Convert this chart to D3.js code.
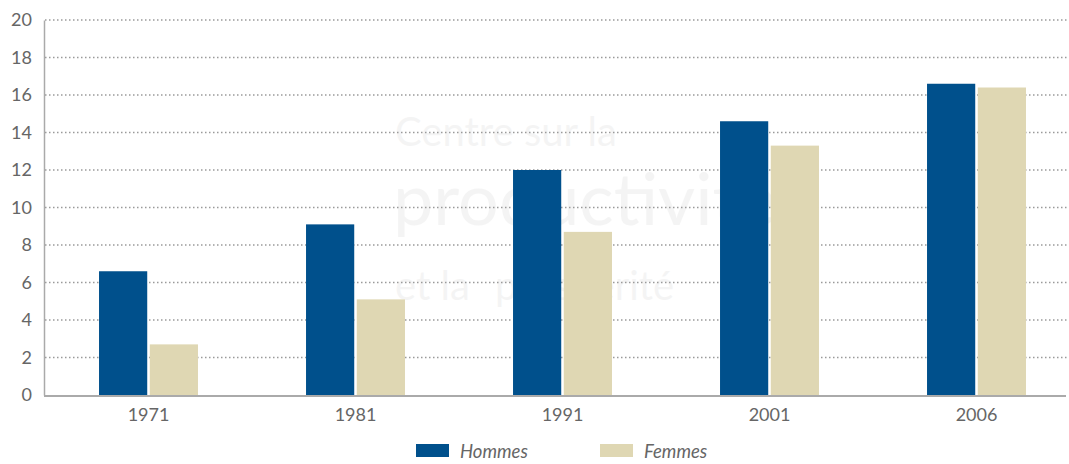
<!DOCTYPE html>
<html>
<head>
<meta charset="utf-8">
<script src="https://cdn.jsdelivr.net/npm/d3@7"></script>
<style>
  body { margin: 0; background: #fff; }
  text { font-family: Lato, "Open Sans", sans-serif; }
</style>
</head>
<body>
<div id="chart"></div>
<script>
const years = ['1971', '1981', '1991', '2001', '2006'];
const series = ['Hommes', 'Femmes'];
const hommes = [6.6, 9.1, 12.0, 14.6, 16.6];
const femmes = [2.7, 5.1, 8.7, 13.3, 16.4];
const yTicks = [0, 2, 4, 6, 8, 10, 12, 14, 16, 18, 20];
const colors = ['#00508c', '#dfd7b3'];

const width = 1069, height = 464;
const svg = d3.select('#chart').append('svg')
  .attr('width', width).attr('height', height);

const x0 = d3.scaleBand().domain(years).range([45, 1080]).paddingInner(0.522).paddingOuter(0.261);
const x1 = d3.scaleBand().domain(series).range([0, x0.bandwidth()]).paddingInner(0.05);
const y = d3.scaleLinear().domain([0, 20]).range([395, 20]);

// faint watermark (kept on separate lines so the texts do not overlap)
const wm = svg.append('g').attr('fill', '#000').attr('opacity', 0.04);
wm.append('text').attr('x', 395).attr('y', 146).attr('font-size', 40).text('Centre sur la');
wm.append('text').attr('x', 393).attr('y', 225).attr('font-size', 72).text('productivité');
wm.append('text').attr('x', 395).attr('y', 300).attr('font-size', 40).text('et la');
wm.append('text').attr('x', 495).attr('y', 300).attr('font-size', 40).text('prospérité');

// grid lines
svg.append('g')
  .selectAll('line')
  .data(yTicks.filter(d => d > 0))
  .enter().append('line')
  .attr('x1', 45).attr('x2', width)
  .attr('y1', d => y(d)).attr('y2', d => y(d))
  .attr('stroke', '#9a9a9a')
  .attr('stroke-width', 1.3)
  .attr('stroke-dasharray', '1.5,2.5');

// bars
const groups = svg.append('g')
  .selectAll('g')
  .data(years)
  .enter().append('g')
  .attr('transform', d => 'translate(' + x0(d) + ',0)');

groups.selectAll('rect')
  .data((d, i) => [hommes[i], femmes[i]].map((v, j) => ({ key: series[j], value: v })))
  .enter().append('rect')
  .attr('x', d => x1(d.key))
  .attr('width', x1.bandwidth())
  .attr('y', d => y(d.value))
  .attr('height', d => y(0) - y(d.value))
  .attr('fill', (d, j) => colors[j]);

// y axis
const yAxis = svg.append('g')
  .attr('transform', 'translate(44,0)')
  .call(d3.axisLeft(y).tickValues(yTicks).tickSize(0).tickPadding(12));
yAxis.select('.domain').attr('stroke', '#aaa').attr('stroke-width', 1.5);
yAxis.selectAll('text').attr('font-size', 18).attr('fill', '#666')
  .style('font-family', 'Lato, sans-serif');

// x axis
const xAxis = svg.append('g')
  .attr('transform', 'translate(0,396)')
  .call(d3.axisBottom(x0).tickSize(0).tickPadding(12));
xAxis.select('.domain').attr('d', 'M44,0H1066').attr('stroke', '#aaa').attr('stroke-width', 2);
xAxis.selectAll('text').attr('font-size', 18).attr('fill', '#666')
  .style('font-family', 'Lato, sans-serif');

// legend
const legend = svg.append('g').attr('transform', 'translate(0,444)');
const legendX = [416, 600];
series.forEach((s, i) => {
  legend.append('rect').attr('x', legendX[i]).attr('y', 0)
    .attr('width', 33).attr('height', 13).attr('fill', colors[i]);
  legend.append('text').attr('x', legendX[i] + 44).attr('y', 14)
    .attr('font-size', 18.5).attr('font-style', 'italic').attr('fill', '#666')
    .text(s);
});
</script>
</body>
</html>
